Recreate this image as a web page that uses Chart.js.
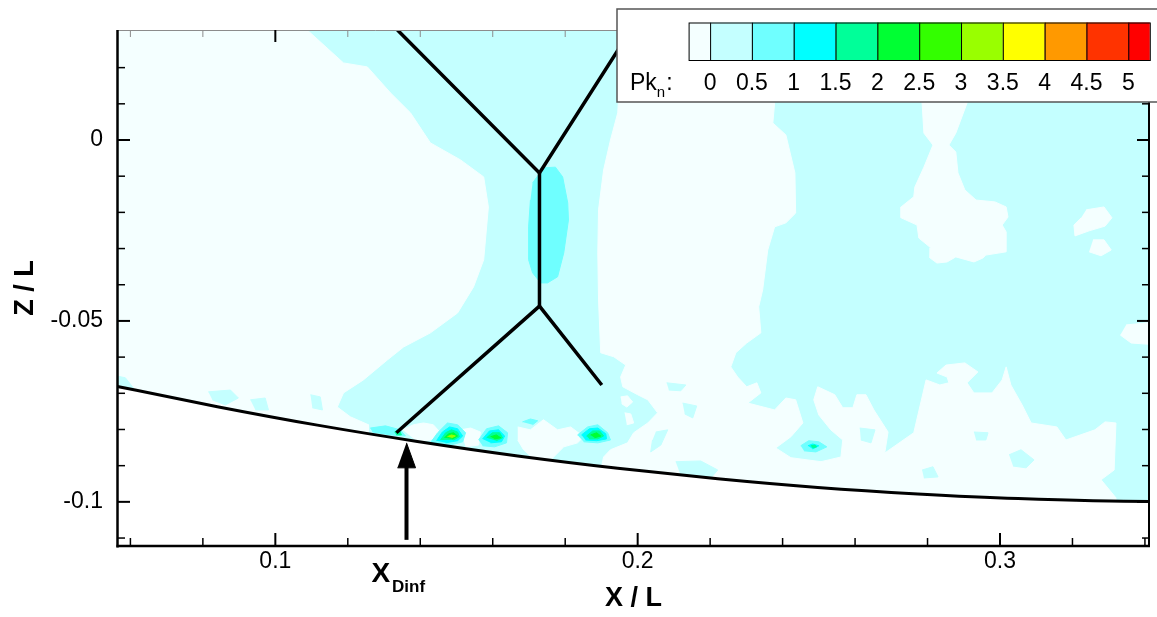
<!DOCTYPE html>
<html>
<head>
<meta charset="utf-8">
<script src="https://cdn.jsdelivr.net/npm/chart.js@4.4.0/dist/chart.umd.min.js"></script>
<style>
html, body { margin: 0; padding: 0; background: #fff; }
</style>
</head>
<body>
<canvas id="pkChart" width="1157" height="617"></canvas>
<script>
// axis ranges (X/L horizontal, Z/L vertical)
var xRange = [0.0563, 0.3414];
var zRange = [-0.1122, 0.0304];

var xTicks = [0.1, 0.2, 0.3];
var xTickLabels = ['0.1', '0.2', '0.3'];
var zTicks = [0, -0.05, -0.1];
var zTickLabels = ['0', '-0.05', '-0.1'];
var xMinorTicks = [0.06, 0.08, 0.12, 0.14, 0.16, 0.18, 0.22, 0.24, 0.26, 0.28, 0.32, 0.34];
var zMinorTicks = [0.02, 0.01, -0.01, -0.02, -0.03, -0.04, -0.06, -0.07, -0.08, -0.09, -0.11];

// Pk_n contour levels and colours
var levelLabels = ['0', '0.5', '1', '1.5', '2', '2.5', '3', '3.5', '4', '4.5', '5'];
var levelColors = ['#f4ffff', '#c4ffff', '#6fffff', '#00ffff', '#00ff99', '#00ff33',
                   '#33ff00', '#99ff00', '#ffff00', '#ff9900', '#ff3300', '#ff0000'];

// whole field (background band)
var fieldAll = [[0.05, 0.04], [0.35, 0.04], [0.35, -0.12], [0.05, -0.12]];

// lowest band regions
var lowLeft = [[0.0544,0.0318],[0.1088,0.0318],[0.1088,0.0304],[0.1188,0.0213],[0.1254,0.0202],[0.1318,0.0130],[0.1373,0.0075],[0.1428,-0.0008],[0.1511,-0.0055],[0.1575,-0.0102],[0.1588,-0.0185],[0.1575,-0.0331],[0.1547,-0.0406],[0.1503,-0.0478],[0.1428,-0.0533],[0.1354,-0.0572],[0.1309,-0.0608],[0.1243,-0.0663],[0.1188,-0.0699],[0.1171,-0.0738],[0.1207,-0.0765],[0.1257,-0.0787],[0.1257,-0.0856],[0.0544,-0.0856]];
var lowStrip = [[0.1959,0.0318],[0.1945,0.0075],[0.1925,0],[0.1906,-0.0083],[0.1892,-0.0193],[0.1890,-0.0312],[0.1892,-0.0442],[0.1898,-0.0588],[0.1934,-0.0599],[0.1967,-0.0622],[0.1953,-0.0655],[0.1959,-0.0682],[0.2000,-0.0704],[0.2028,-0.0718],[0.2055,-0.0754],[0.2028,-0.0782],[0.1989,-0.0809],[0.1972,-0.0837],[0.1925,-0.0856],[0.1906,-0.0876],[0.1898,-0.0912],[0.1898,-0.1050],
  [0.3320,-0.1050],[0.3320,-0.0989],[0.3279,-0.0939],[0.3315,-0.0912],[0.3320,-0.0782],
  [0.3290,-0.0779],[0.3262,-0.0801],[0.3182,-0.0829],[0.3157,-0.0793],[0.3086,-0.0782],[0.3061,-0.0732],[0.3030,-0.0677],[0.3017,-0.0627],[0.3006,-0.0663],[0.2978,-0.0699],[0.2928,-0.0699],[0.2909,-0.0671],[0.2939,-0.0641],[0.2903,-0.0616],[0.2851,-0.0622],[0.2826,-0.0644],[0.2854,-0.0655],[0.2859,-0.0671],[0.2834,-0.0677],[0.2796,-0.0663],[0.2762,-0.0809],[0.2682,-0.0865],[0.2691,-0.0807],[0.2652,-0.0746],[0.2630,-0.0704],[0.2605,-0.0704],[0.2594,-0.0740],[0.2566,-0.0740],[0.2544,-0.0704],[0.2497,-0.0682],[0.2486,-0.0718],[0.2500,-0.0760],[0.2533,-0.0801],[0.2566,-0.0829],[0.2561,-0.0876],[0.2506,-0.0889],[0.2423,-0.0878],[0.2381,-0.0851],[0.2423,-0.0820],[0.2456,-0.0782],[0.2436,-0.0718],[0.2409,-0.0713],[0.2378,-0.0746],[0.2304,-0.0727],[0.2340,-0.0699],[0.2329,-0.0671],[0.2301,-0.0682],[0.2276,-0.0655],[0.2257,-0.0627],[0.2271,-0.0588],[0.2301,-0.0561],[0.2340,-0.0533],[0.2334,-0.0461],[0.2345,-0.0414],[0.2359,-0.0304],[0.2378,-0.0240],[0.2409,-0.0229],[0.2436,-0.0202],[0.2434,-0.0091],[0.2409,0.0014],[0.2373,0.0047],[0.2378,0.0102],[0.2384,0.0318]];
var lowTop = [[0.2785,0.0318],[0.2785,0.0102],[0.2790,0.0019],[0.2815,-0.0014],[0.2790,-0.0075],[0.2765,-0.0130],[0.2762,-0.0157],[0.2727,-0.0185],[0.2727,-0.0215],[0.2771,-0.0235],[0.2776,-0.0271],[0.2809,-0.0298],[0.2807,-0.0326],[0.2826,-0.0340],[0.2854,-0.0337],[0.2878,-0.0323],[0.2928,-0.0337],[0.2953,-0.0326],[0.2961,-0.0318],[0.3017,-0.0309],[0.3017,-0.0254],[0.3006,-0.0235],[0.3022,-0.0213],[0.3017,-0.0185],[0.2986,-0.0171],[0.2934,-0.0166],[0.2903,-0.0138],[0.2884,-0.0091],[0.2878,-0.0033],[0.2859,-0.0014],[0.2878,0.0019],[0.2909,0.0102],[0.2914,0.0318]];
var lowRight1 = [[0.3348,-0.0511],[0.3431,-0.0503],[0.3431,-0.0566],[0.3362,-0.0561],[0.3332,-0.0539]];
var lowRight2 = [[0.3238,-0.0193],[0.3287,-0.0185],[0.3309,-0.0215],[0.3290,-0.0238],[0.3246,-0.0251],[0.3207,-0.0265],[0.3204,-0.0235],[0.3224,-0.0215]];
var lowRight3 = [[0.3257,-0.0276],[0.3287,-0.0276],[0.3307,-0.0304],[0.3279,-0.0320],[0.3246,-0.0309]];
var lowFoot1 = [[0.1351,-0.0801],[0.1381,-0.0787],[0.1409,-0.0782],[0.1436,-0.0787],[0.1456,-0.0809],[0.1428,-0.0829],[0.1392,-0.0834]];
var lowFoot2 = [[0.1511,-0.0801],[0.1539,-0.0796],[0.1566,-0.0807],[0.1561,-0.0843],[0.1525,-0.0848]];
var lowFoot3 = [[0.1669,-0.0793],[0.1704,-0.0801],[0.1740,-0.0773],[0.1779,-0.0801],[0.1815,-0.0793],[0.1851,-0.0820],[0.1834,-0.0837],[0.1796,-0.0848],[0.1760,-0.0884],[0.1724,-0.0892],[0.1685,-0.0856],[0.1669,-0.0829]];
var lowFoot4 = [[0.1953,-0.0710],[0.1972,-0.0707],[0.1986,-0.0724],[0.1970,-0.0738],[0.1956,-0.0729]];
var lowFoot5 = [[0.1964,-0.0754],[0.1981,-0.0757],[0.1989,-0.0782],[0.1970,-0.0787]];

// small patches of the 0-0.5 band inside low regions
var bandPatches = [
  [[0.0550,-0.0650],[0.0586,-0.0657],[0.0608,-0.0685],[0.0550,-0.0696]],
  [[0.0815,-0.0696],[0.0876,-0.0691],[0.0898,-0.0713],[0.0862,-0.0732],[0.0826,-0.0718]],
  [[0.0931,-0.0718],[0.0972,-0.0713],[0.0981,-0.0746],[0.0945,-0.0746]],
  [[0.1097,-0.0704],[0.1124,-0.0710],[0.1130,-0.0746],[0.1102,-0.0740]],
  [[0.2928,-0.0807],[0.2967,-0.0809],[0.2961,-0.0829],[0.2934,-0.0829]],
  [[0.3025,-0.0870],[0.3058,-0.0856],[0.3094,-0.0884],[0.3072,-0.0906],[0.3036,-0.0901]],
  [[0.2785,-0.0912],[0.2815,-0.0903],[0.2829,-0.0931],[0.2790,-0.0934]],
  [[0.2105,-0.0889],[0.2174,-0.0887],[0.2221,-0.0912],[0.2202,-0.0934],[0.2119,-0.0928]],
  [[0.2050,-0.0807],[0.2083,-0.0801],[0.2064,-0.0843],[0.2036,-0.0862],[0.2041,-0.0829]],
  [[0.2080,-0.0671],[0.2133,-0.0677],[0.2119,-0.0693],[0.2086,-0.0691]],
  [[0.2124,-0.0727],[0.2163,-0.0735],[0.2152,-0.0768],[0.2130,-0.0757]],
  [[0.2613,-0.0796],[0.2655,-0.0801],[0.2644,-0.0837],[0.2616,-0.0829]]
];

// 0.5-1 band
var stemBlob = [[0.1710,-0.0119],[0.1740,-0.0077],[0.1773,-0.0075],[0.1793,-0.0102],[0.1807,-0.0174],[0.1809,-0.0221],[0.1796,-0.0312],[0.1779,-0.0378],[0.1751,-0.0395],[0.1732,-0.0395],[0.1710,-0.0367],[0.1699,-0.0331],[0.1699,-0.0240],[0.1704,-0.0166]];
var footSpot1 = [[0.1262,-0.0796],[0.1304,-0.0790],[0.1345,-0.0801],[0.1359,-0.0818],[0.1318,-0.0815],[0.1268,-0.0807]];
var spotA1 = [[0.1428,-0.0837],[0.1448,-0.0809],[0.1475,-0.0782],[0.1503,-0.0787],[0.1525,-0.0809],[0.1517,-0.0834],[0.1483,-0.0843],[0.1450,-0.0845]];
var spotB1 = [[0.1561,-0.0829],[0.1583,-0.0798],[0.1616,-0.0790],[0.1641,-0.0809],[0.1638,-0.0837],[0.1605,-0.0848],[0.1572,-0.0845]];
var spotC1 = [[0.1834,-0.0815],[0.1862,-0.0793],[0.1890,-0.0787],[0.1917,-0.0809],[0.1925,-0.0829],[0.1890,-0.0837],[0.1851,-0.0834]];
var spotD1 = [[0.2450,-0.0845],[0.2472,-0.0831],[0.2500,-0.0834],[0.2522,-0.0848],[0.2492,-0.0862],[0.2459,-0.0859]];
var spotE1 = [[0.1682,-0.0779],[0.1704,-0.0771],[0.1724,-0.0776],[0.1710,-0.0787]];
// 1-1.5 band
var spotA15 = [[0.1445,-0.0831],[0.1461,-0.0807],[0.1481,-0.0793],[0.1503,-0.0798],[0.1517,-0.0818],[0.1503,-0.0831],[0.1470,-0.0837]];
var spotB15 = [[0.1572,-0.0826],[0.1591,-0.0804],[0.1616,-0.0801],[0.1633,-0.0818],[0.1624,-0.0834],[0.1594,-0.0837]];
var spotC15 = [[0.1845,-0.0815],[0.1867,-0.0798],[0.1890,-0.0796],[0.1912,-0.0812],[0.1914,-0.0826],[0.1887,-0.0831],[0.1856,-0.0829]];
var spotD15 = [[0.2470,-0.0845],[0.2483,-0.0840],[0.2500,-0.0845],[0.2483,-0.0854]];
// 1.5-2 band
var footSpot2 = [[0.1329,-0.0807],[0.1343,-0.0804],[0.1348,-0.0815],[0.1334,-0.0815]];
var spotA2 = [[0.1456,-0.0829],[0.1470,-0.0809],[0.1486,-0.0801],[0.1503,-0.0807],[0.1508,-0.0820],[0.1492,-0.0829]];
var spotB2 = [[0.1583,-0.0823],[0.1599,-0.0809],[0.1619,-0.0809],[0.1627,-0.0823],[0.1610,-0.0831]];
var spotC2 = [[0.1859,-0.0818],[0.1876,-0.0804],[0.1895,-0.0804],[0.1906,-0.0818],[0.1890,-0.0826],[0.1867,-0.0826]];
var spotD2 = [[0.2478,-0.0845],[0.2489,-0.0843],[0.2494,-0.0848],[0.2483,-0.0851]];
// 2-2.5 band
var spotA25 = [[0.1467,-0.0823],[0.1478,-0.0812],[0.1492,-0.0809],[0.1503,-0.0818],[0.1489,-0.0826]];
var spotB25 = [[0.1594,-0.0820],[0.1610,-0.0815],[0.1622,-0.0823],[0.1605,-0.0826]];
var spotC25 = [[0.1870,-0.0815],[0.1887,-0.0809],[0.1898,-0.0818],[0.1881,-0.0823]];
// 3-3.5 band
var spotA3 = [[0.1475,-0.0820],[0.1486,-0.0815],[0.1497,-0.0818],[0.1486,-0.0823]];

// wall contour and shock lines
var wall = [[0.0540,-0.0676],[0.0564,-0.0681],[0.0840,-0.0737],[0.1116,-0.0788],[0.1392,-0.0833],[0.1669,-0.0873],[0.1945,-0.0907],[0.2221,-0.0936],[0.2497,-0.0960],[0.2773,-0.0978],[0.3050,-0.0991],[0.3414,-0.0999],[0.3450,-0.0999]];
var shockUpper = [[0.1337,0.0304],[0.1729,-0.0091],[0.1981,0.0304]];
var shockStem = [[0.1729,-0.0091],[0.1729,-0.0459]];
var shockLower = [[0.1334,-0.0809],[0.1729,-0.0459],[0.1901,-0.0677]];

// X_Dinf marker
var xDinf = 0.1362;
var arrowShaft = [[0.1362,-0.1105],[0.1362,-0.0895]];
var arrowHead = [[0.1362,-0.0837],[0.1387,-0.0906],[0.1337,-0.0906]];

// contour draw list: [polygon, band index], painted in this order
var contours = [
  [fieldAll, 1],
  [lowLeft, 0], [lowStrip, 0], [lowTop, 0], [lowRight1, 0], [lowRight2, 0], [lowRight3, 0],
  [lowFoot1, 0], [lowFoot2, 0], [lowFoot3, 0], [lowFoot4, 0], [lowFoot5, 0]
].concat(bandPatches.map(function(p) { return [p, 1]; })).concat([
  [stemBlob, 2], [footSpot1, 2], [spotA1, 2], [spotB1, 2], [spotC1, 2], [spotD1, 2], [spotE1, 2],
  [spotA15, 3], [spotB15, 3], [spotC15, 3], [spotD15, 3],
  [footSpot2, 4], [spotA2, 4], [spotB2, 4], [spotC2, 4], [spotD2, 4],
  [spotA25, 5], [spotB25, 5], [spotC25, 5],
  [spotA3, 7]
]);

function pts(arr) {
  return arr.map(function(p) { return {x: p[0], y: p[1]}; });
}

var datasets = contours.map(function(c) {
  var col = levelColors[c[1]];
  return {
    data: pts(c[0]),
    fill: 'shape',
    backgroundColor: col,
    borderColor: col,
    borderWidth: 1,
    pointRadius: 0,
    tension: 0
  };
});

datasets.push({
  data: pts(wall), fill: 'start', backgroundColor: '#ffffff',
  borderColor: '#000', borderWidth: 3, pointRadius: 0, cubicInterpolationMode: 'monotone'
});
[shockUpper, shockStem, shockLower].forEach(function(s) {
  datasets.push({
    data: pts(s), fill: false, borderColor: '#000', borderWidth: 3.5,
    pointRadius: 0, tension: 0, borderJoinStyle: 'miter'
  });
});
datasets.push({ data: pts(arrowShaft), fill: false, borderColor: '#000', borderWidth: 4, pointRadius: 0 });
datasets.push({ data: pts(arrowHead), fill: 'shape', backgroundColor: '#000', borderColor: '#000', borderWidth: 1, pointRadius: 0 });

// later entries on top
datasets.forEach(function(d, i) { d.order = -i; });

var FONT = "'Liberation Sans', Arial, sans-serif";

var framePlugin = {
  id: 'frame',
  afterDatasetsDraw: function(chart) {
    var ctx = chart.ctx, a = chart.chartArea;
    var sx = chart.scales.x, sy = chart.scales.y;
    ctx.save();
    function seg(x1, y1, x2, y2) { ctx.beginPath(); ctx.moveTo(x1, y1); ctx.lineTo(x2, y2); ctx.stroke(); }

    // top edge (thin) and right edge
    ctx.strokeStyle = '#8c8c8c'; ctx.lineWidth = 1;
    seg(a.left, a.top + 0.5, a.right, a.top + 0.5);
    xMinorTicks.forEach(function(v) { var p = sx.getPixelForValue(v); seg(p, a.top, p, a.top + 7); });
    ctx.strokeStyle = '#000'; ctx.lineWidth = 2;
    xTicks.forEach(function(v) { var p = sx.getPixelForValue(v); seg(p, a.top, p, a.top + 12); });
    seg(a.right - 1, a.top, a.right - 1, a.bottom);
    zTicks.forEach(function(v) { var p = sy.getPixelForValue(v); seg(a.right - 1, p, a.right - 13, p); });
    ctx.lineWidth = 1.5;
    zMinorTicks.forEach(function(v) { var p = sy.getPixelForValue(v); seg(a.right - 1, p, a.right - 8, p); });

    // left and bottom axes
    ctx.strokeStyle = '#000';
    ctx.lineWidth = 2.5;
    seg(a.left + 0.5, a.top, a.left + 0.5, a.bottom + 1.5);
    seg(a.left - 0.5, a.bottom, a.right, a.bottom);
    ctx.lineWidth = 2;
    zTicks.forEach(function(v) { var p = sy.getPixelForValue(v); seg(a.left, p, a.left + 13, p); });
    xTicks.forEach(function(v) { var p = sx.getPixelForValue(v); seg(p, a.bottom, p, a.bottom - 13); });
    ctx.lineWidth = 1.5;
    zMinorTicks.forEach(function(v) { var p = sy.getPixelForValue(v); seg(a.left, p, a.left + 8, p); });
    xMinorTicks.forEach(function(v) { var p = sx.getPixelForValue(v); seg(p, a.bottom, p, a.bottom - 8); });

    // X_Dinf label under the arrow
    var xp = sx.getPixelForValue(xDinf);
    ctx.fillStyle = '#000';
    ctx.textBaseline = 'alphabetic';
    ctx.textAlign = 'left';
    ctx.font = 'bold 28px ' + FONT;
    ctx.fillText('X', xp - 35, a.bottom + 36);
    ctx.font = 'bold 17px ' + FONT;
    ctx.fillText('Dinf', xp - 14.5, a.bottom + 46);
    ctx.restore();
  },
  afterDraw: function(chart) {
    // colour bar legend box
    var ctx = chart.ctx;
    ctx.save();
    ctx.fillStyle = '#fff';
    ctx.fillRect(617, 9, 545, 93);
    ctx.strokeStyle = '#555'; ctx.lineWidth = 1.5;
    ctx.strokeRect(617, 9, 545, 93);

    var x0 = 688.6, edgeW = 21.5, bw = 41.82, top = 22.5, h = 37.5;
    ctx.lineWidth = 1; ctx.strokeStyle = '#000';
    for (var i = 0; i < levelColors.length; i++) {
      var x = i === 0 ? x0 : x0 + edgeW + (i - 1) * bw;
      var w = (i === 0 || i === levelColors.length - 1) ? edgeW : bw;
      ctx.fillStyle = levelColors[i];
      ctx.fillRect(x, top, w, h);
      ctx.strokeRect(x + 0.5, top + 0.5, w, h);
    }
    ctx.fillStyle = '#000';
    ctx.font = '23px ' + FONT;
    ctx.textAlign = 'center';
    ctx.textBaseline = 'alphabetic';
    levelLabels.forEach(function(t, k) {
      ctx.fillText(t, x0 + edgeW + k * bw, 90);
    });
    ctx.textAlign = 'left';
    ctx.fillText('Pk', 630, 90);
    var pw = ctx.measureText('Pk').width;
    ctx.font = '15px ' + FONT;
    ctx.fillText('n', 630 + pw, 97);
    var nw = ctx.measureText('n').width;
    ctx.font = '23px ' + FONT;
    ctx.fillText(':', 631 + pw + nw, 90);
    ctx.restore();
  }
};

new Chart(document.getElementById('pkChart').getContext('2d'), {
  type: 'line',
  data: { datasets: datasets },
  options: {
    responsive: false,
    animation: false,
    events: [],
    layout: { padding: { left: 0, right: 7, top: 30, bottom: 0 } },
    plugins: { legend: { display: false }, tooltip: { enabled: false } },
    scales: {
      x: {
        type: 'linear',
        min: xRange[0], max: xRange[1],
        grid: { display: false, drawTicks: false },
        border: { display: false },
        afterBuildTicks: function(scale) { scale.ticks = xTicks.map(function(v) { return {value: v}; }); },
        afterFit: function(scale) { scale.height = 71; },
        ticks: {
          padding: 2, color: '#000', maxRotation: 0,
          font: { family: FONT, size: 23 },
          callback: function(v, i) { return xTickLabels[i]; }
        },
        title: {
          display: true, text: 'X / L', color: '#000',
          font: { family: FONT, size: 27, weight: 'bold' },
          padding: { top: 0, bottom: 2 }
        }
      },
      y: {
        type: 'linear',
        min: zRange[0], max: zRange[1],
        grid: { display: false, drawTicks: false },
        border: { display: false },
        afterBuildTicks: function(scale) { scale.ticks = zTicks.map(function(v) { return {value: v}; }); },
        afterFit: function(scale) { scale.width = 117; },
        ticks: {
          padding: 14, color: '#000',
          font: { family: FONT, size: 23 },
          callback: function(v, i) { return zTickLabels[i]; }
        },
        title: {
          display: true, text: 'Z / L', color: '#000',
          font: { family: FONT, size: 27, weight: 'bold' },
          padding: { top: 9, bottom: 0 }
        }
      }
    }
  },
  plugins: [framePlugin]
});
</script>
</body>
</html>
